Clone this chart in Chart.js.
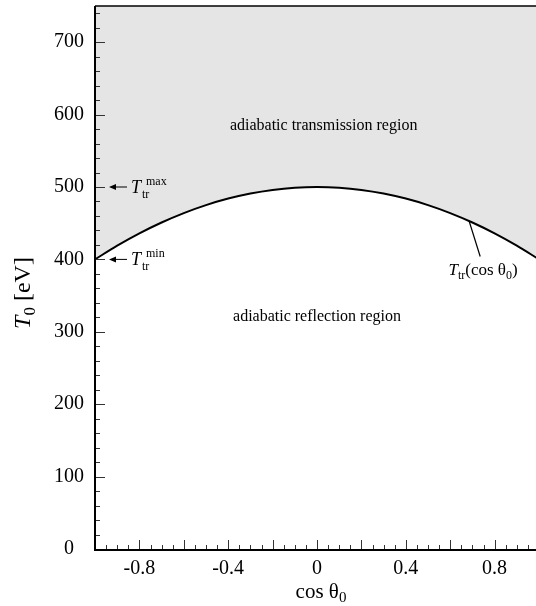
<!DOCTYPE html>
<html>
<head>
<meta charset="utf-8">
<script src="https://cdn.jsdelivr.net/npm/chart.js@4.4.1/dist/chart.umd.min.js"></script>
<style>
  html, body { margin: 0; padding: 0; overflow: hidden; background: #fff; }
  canvas { display: block; }
</style>
</head>
<body>
<canvas id="chart" width="540" height="606"></canvas>
<script>
// values
let cosTheta = [-1, -0.9, -0.8, -0.7, -0.6, -0.5, -0.4, -0.3, -0.2, -0.1, 0,
                0.1, 0.2, 0.3, 0.4, 0.5, 0.6, 0.7, 0.8, 0.9, 1];
let tTr = [400, 419, 436, 451, 464, 475, 484, 491, 496, 499, 500,
           499, 496, 491, 484, 475, 464, 451, 436, 419, 400];
let xTickLabels = [-0.8, -0.4, 0, 0.4, 0.8];
let yTickLabels = [0, 100, 200, 300, 400, 500, 600, 700];
let tMax = 500;
let tMin = 400;

let serif = "Liberation Serif";
let fillGray = "#e5e5e5";

// draw a row of text pieces (for sub/superscripts)
function drawRuns(ctx, x, y, runs, align) {
  let w = 0;
  runs.forEach(r => { ctx.font = r.font; w += r.adv !== undefined ? r.adv : ctx.measureText(r.t).width; });
  let cx = align === "center" ? x - w / 2 : x;
  ctx.textAlign = "left";
  ctx.textBaseline = "alphabetic";
  runs.forEach(r => {
    ctx.font = r.font;
    ctx.fillText(r.t, cx, y + (r.dy || 0));
    cx += r.adv !== undefined ? r.adv : ctx.measureText(r.t).width;
  });
}

function ttrLabel(ctx, x, y, sup) {
  drawRuns(ctx, x, y, [
    { t: "T", font: "italic 18px " + serif, adv: 11 },
    { t: "tr", font: "12px " + serif, dy: 5, adv: 4 },
    { t: sup, font: "12px " + serif, dy: -8 }
  ], "left");
}

function arrowLeft(ctx, x1, x2, y) {
  ctx.beginPath();
  ctx.moveTo(x1, y);
  ctx.lineTo(x2 + 5, y);
  ctx.stroke();
  ctx.beginPath();
  ctx.moveTo(x2, y);
  ctx.lineTo(x2 + 7, y - 3);
  ctx.lineTo(x2 + 7, y + 3);
  ctx.closePath();
  ctx.fill();
}

function noPad(s) {
  s.paddingTop = 0;
  s.paddingBottom = 0;
  s.paddingLeft = 0;
  s.paddingRight = 0;
}

const framePlugin = {
  id: "frame",
  afterDatasetsDraw(chart) {
    const ctx = chart.ctx;
    const a = chart.chartArea;
    const xs = chart.scales.x;
    const ys = chart.scales.y;
    ctx.save();
    ctx.strokeStyle = "#000";
    ctx.fillStyle = "#000";

    // inward ticks
    ctx.lineWidth = 1;
    ctx.strokeStyle = "#333";
    for (let i = 0; i <= 40; i++) {
      let v = -1 + i * 0.05;
      let px = Math.round(xs.getPixelForValue(v)) + 0.5;
      let len = (i % 4 === 0) ? 9 : 4;
      ctx.beginPath();
      ctx.moveTo(px, a.bottom);
      ctx.lineTo(px, a.bottom - len);
      ctx.stroke();
    }
    for (let i = 0; i <= 37; i++) {
      let v = i * 20;
      let py = Math.round(ys.getPixelForValue(v)) + 0.5;
      let len = (i % 5 === 0) ? 10 : 5;
      ctx.beginPath();
      ctx.moveTo(a.left, py);
      ctx.lineTo(a.left + len, py);
      ctx.stroke();
    }

    // axis lines
    ctx.strokeStyle = "#000";
    ctx.lineWidth = 2;
    ctx.beginPath();
    ctx.moveTo(a.left, a.top);
    ctx.lineTo(a.left, a.bottom + 1);
    ctx.lineTo(a.right, a.bottom + 1);
    ctx.stroke();
    ctx.lineWidth = 1.5;
    ctx.beginPath();
    ctx.moveTo(a.left, a.top);
    ctx.lineTo(a.right, a.top);
    ctx.stroke();

    // region labels
    ctx.font = "16px " + serif;
    ctx.textAlign = "center";
    ctx.textBaseline = "middle";
    ctx.fillText("adiabatic transmission region", xs.getPixelForValue(0.03), ys.getPixelForValue(584));
    ctx.fillText("adiabatic reflection region", xs.getPixelForValue(0), ys.getPixelForValue(321));

    // arrows to Ttr max / min
    ctx.lineWidth = 1;
    let ax1 = a.left + 32, ax2 = a.left + 14;
    let yMaxPx = ys.getPixelForValue(tMax);
    let yMinPx = ys.getPixelForValue(tMin);
    arrowLeft(ctx, ax1, ax2, yMaxPx);
    arrowLeft(ctx, ax1, ax2, yMinPx);
    ttrLabel(ctx, a.left + 36, yMaxPx + 6, "max");
    ttrLabel(ctx, a.left + 36, yMinPx + 6, "min");

    // leader line to the curve
    ctx.lineWidth = 1.2;
    ctx.beginPath();
    ctx.moveTo(xs.getPixelForValue(0.685), ys.getPixelForValue(453));
    ctx.lineTo(xs.getPixelForValue(0.735), ys.getPixelForValue(404));
    ctx.stroke();
    drawRuns(ctx, xs.getPixelForValue(0.748), ys.getPixelForValue(379), [
      { t: "T", font: "italic 17px " + serif },
      { t: "tr", font: "12px " + serif, dy: 4 },
      { t: "(cos \u03b8", font: "17px " + serif },
      { t: "0", font: "12px " + serif, dy: 4 },
      { t: ")", font: "17px " + serif }
    ], "center");

    // axis titles
    drawRuns(ctx, 321, 598, [
      { t: "cos \u03b8", font: "21px " + serif },
      { t: "0", font: "15px " + serif, dy: 4 }
    ], "center");
    ctx.translate(30, 293);
    ctx.rotate(-Math.PI / 2);
    drawRuns(ctx, 0, 0, [
      { t: "T", font: "italic 24px " + serif },
      { t: "0", font: "17px " + serif, dy: 5 },
      { t: " [eV]", font: "24px " + serif }
    ], "center");
    ctx.restore();
  }
};

new Chart(document.getElementById("chart"), {
  type: "line",
  data: {
    datasets: [{
      label: "Ttr",
      data: cosTheta.map((c, i) => ({ x: c, y: tTr[i] })),
      borderColor: "#000",
      borderWidth: 2,
      pointRadius: 0,
      cubicInterpolationMode: "monotone",
      fill: "end",
      backgroundColor: fillGray
    }]
  },
  options: {
    responsive: false,
    animation: false,
    layout: { padding: { top: 6, right: 1, left: 0, bottom: 0 } },
    plugins: { legend: { display: false }, tooltip: { enabled: false } },
    scales: {
      x: {
        type: "linear",
        min: -1,
        max: 1,
        afterFit(s) { s.height = 57; noPad(s); },
        afterBuildTicks(s) { s.ticks = xTickLabels.map(v => ({ value: v })); },
        grid: { display: false, drawTicks: false },
        border: { display: false },
        ticks: {
          font: { family: serif, size: 20 },
          color: "#000",
          padding: 8,
          maxRotation: 0,
          autoSkip: false,
          callback: v => String(v)
        }
      },
      y: {
        type: "linear",
        min: 0,
        max: 750,
        afterFit(s) { s.width = 95; noPad(s); },
        afterBuildTicks(s) { s.ticks = yTickLabels.map(v => ({ value: v })); },
        grid: { display: false, drawTicks: false },
        border: { display: false },
        ticks: {
          font: { family: serif, size: 20 },
          color: "#000",
          padding: 11,
          crossAlign: "center",
          autoSkip: false,
          callback: v => String(v)
        }
      }
    }
  },
  plugins: [framePlugin]
});
</script>
</body>
</html>
